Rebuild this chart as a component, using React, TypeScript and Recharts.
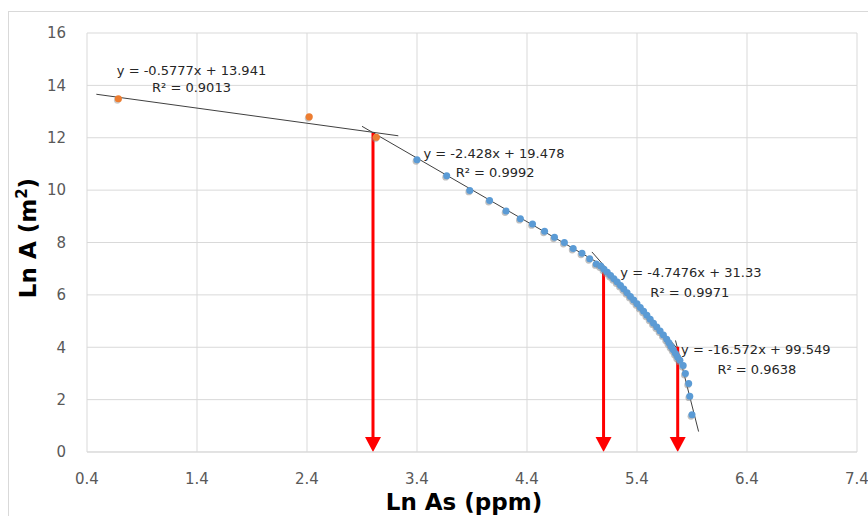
import React from 'react';
import {
  ScatterChart,
  Scatter,
  XAxis,
  YAxis,
  CartesianGrid,
  ReferenceLine,
  ReferenceDot,
} from 'recharts';

// ---- data ----
const orangeX = [0.685, 2.42, 3.03];
const orangeY = [13.49, 12.8, 12.02];

const blueX = [
  3.4, 3.67, 3.88, 4.06, 4.21, 4.34, 4.45, 4.56, 4.65, 4.74, 4.82, 4.9, 4.97, 5.03,
  5.07, 5.1, 5.13, 5.16, 5.19, 5.22, 5.25, 5.28, 5.31, 5.34, 5.37, 5.4, 5.43, 5.46,
  5.49, 5.52, 5.55, 5.58, 5.61, 5.64, 5.67, 5.69, 5.71, 5.73, 5.75, 5.77,
  5.79, 5.82, 5.84, 5.87, 5.88, 5.9,
];
const blueY = [
  11.16, 10.55, 9.99, 9.6, 9.2, 8.91, 8.71, 8.43, 8.2, 8.0, 7.77, 7.59, 7.38, 7.18,
  7.1, 6.98, 6.86, 6.74, 6.62, 6.49, 6.36, 6.22, 6.08, 5.94, 5.8, 5.66, 5.52, 5.37,
  5.22, 5.07, 4.92, 4.77, 4.62, 4.47, 4.31, 4.17, 4.03, 3.9, 3.76, 3.62,
  3.5, 3.3, 3.0, 2.62, 2.13, 1.42,
];

const trendSlope = [-0.5777, -2.428, -4.7476, -16.572];
const trendIntercept = [13.941, 19.478, 31.33, 99.549];
const trendStart = [0.485, 2.9, 4.99, 5.75];
const trendEnd = [3.23, 5.08, 5.76, 5.96];
const trendEquation = [
  'y = -0.5777x + 13.941',
  'y = -2.428x + 19.478',
  'y = -4.7476x + 31.33',
  'y = -16.572x + 99.549',
];
const trendR2 = ['R² = 0.9013', 'R² = 0.9992', 'R² = 0.9971', 'R² = 0.9638'];
const eqLabelX = [1.35, 4.1, 5.89, 6.48];
const eqLabelY = [14.56, 11.38, 6.84, 3.93];
const r2LabelX = [1.35, 4.11, 5.88, 6.49];
const r2LabelY = [13.91, 10.66, 6.08, 3.16];

const arrowX = [3.0, 5.096, 5.77];
const arrowTop = [12.18, 7.08, 4.02];

const xTicks = [0.4, 1.4, 2.4, 3.4, 4.4, 5.4, 6.4, 7.4];
const yTicks = [0, 2, 4, 6, 8, 10, 12, 14, 16];

const orangeData = orangeX.map((x, i) => ({ x, y: orangeY[i] }));
const blueData = blueX.map((x, i) => ({ x, y: blueY[i] }));

const FONT = '"DejaVu Sans", sans-serif';

const BlueDot = (p: any) => (
  <g>
    <circle cx={p.cx - 1} cy={p.cy + 1.5} r={3.4} fill="#8c8c8c" fillOpacity={0.55} />
    <circle cx={p.cx} cy={p.cy} r={3.5} fill="#5b9bd5" />
  </g>
);

const OrangeDot = (p: any) => (
  <g>
    <circle cx={p.cx - 1} cy={p.cy + 1.5} r={3.4} fill="#8c8c8c" fillOpacity={0.45} />
    <circle cx={p.cx} cy={p.cy} r={3.6} fill="#ed7d31" />
  </g>
);

const ArrowShape = (p: any) => {
  const { x1, y1, y2 } = p;
  const top = Math.min(y1, y2);
  const bot = Math.max(y1, y2);
  const h = 15;
  const w = 8;
  return (
    <g>
      <line x1={x1} y1={top} x2={x1} y2={bot - h + 1} stroke="#ff0000" strokeWidth={3} />
      <polygon points={`${x1 - w},${bot - h} ${x1 + w},${bot - h} ${x1},${bot}`} fill="#ff0000" />
    </g>
  );
};

const makeText = (txt: string) => (p: any) => (
  <text
    x={p.cx}
    y={p.cy}
    textAnchor="middle"
    dominantBaseline="central"
    fontFamily={FONT}
    fontSize={13}
    fill="#262626"
  >
    {txt}
  </text>
);

export default function App() {
  return (
    <div
      style={{
        position: 'fixed',
        left: 0,
        top: 0,
        width: 868,
        height: 516,
        overflow: 'hidden',
        background: '#fff',
      }}
    >
      <div
        style={{
          position: 'absolute',
          left: 8,
          top: 11,
          width: 900,
          height: 600,
          borderLeft: '1px solid #d9d9d9',
          borderTop: '1px solid #d9d9d9',
          boxSizing: 'border-box',
        }}
      />
      <div style={{ position: 'absolute', left: 0, top: 0 }}>
        <ScatterChart
          width={868}
          height={516}
          margin={{ top: 33, right: 11, left: 27, bottom: 34 }}
        >
          <CartesianGrid stroke="#d9d9d9" strokeWidth={1} />
          <XAxis
            type="number"
            dataKey="x"
            domain={[0.4, 7.4]}
            ticks={xTicks}
            tickFormatter={(v: number) => v.toFixed(1)}
            allowDataOverflow
            height={30}
            tickLine={false}
            tickMargin={15}
            axisLine={{ stroke: '#d9d9d9' }}
            tick={{ fill: '#595959', fontSize: 15, fontFamily: FONT }}
          />
          <YAxis
            type="number"
            dataKey="y"
            domain={[0, 16]}
            ticks={yTicks}
            allowDataOverflow
            width={60}
            tickLine={false}
            axisLine={false}
            tickMargin={15}
            tick={{ fill: '#595959', fontSize: 15, fontFamily: FONT }}
          />
          <Scatter data={orangeData} shape={OrangeDot} isAnimationActive={false} />
          <Scatter data={blueData} shape={BlueDot} isAnimationActive={false} />
          {trendSlope.map((m, i) => (
            <ReferenceLine
              key={'t' + i}
              segment={[
                { x: trendStart[i], y: m * trendStart[i] + trendIntercept[i] },
                { x: trendEnd[i], y: m * trendEnd[i] + trendIntercept[i] },
              ]}
              stroke="#404040"
              strokeWidth={1}
              ifOverflow="visible"
            />
          ))}
          {arrowX.map((x, i) => (
            <ReferenceLine
              key={'a' + i}
              segment={[
                { x, y: arrowTop[i] },
                { x, y: 0 },
              ]}
              stroke="#ff0000"
              strokeWidth={3}
              shape={ArrowShape}
              ifOverflow="visible"
            />
          ))}
          {trendEquation.map((t, i) => (
            <ReferenceDot
              key={'e' + i}
              x={eqLabelX[i]}
              y={eqLabelY[i]}
              r={0}
              shape={makeText(t)}
              ifOverflow="visible"
            />
          ))}
          {trendR2.map((t, i) => (
            <ReferenceDot
              key={'r' + i}
              x={r2LabelX[i]}
              y={r2LabelY[i]}
              r={0}
              shape={makeText(t)}
              ifOverflow="visible"
            />
          ))}
        </ScatterChart>
      </div>
      <svg
        width={868}
        height={516}
        style={{ position: 'absolute', left: 0, top: 0, pointerEvents: 'none' }}
      >
        <text
          x={464}
          y={510}
          textAnchor="middle"
          fontFamily={FONT}
          fontWeight="bold"
          fontSize={23}
          fill="#000"
        >
          Ln As (ppm)
        </text>
        <text
          transform="translate(36,238) rotate(-90)"
          textAnchor="middle"
          fontFamily={FONT}
          fontWeight="bold"
          fontSize={23}
          fill="#000"
        >
          Ln A (m<tspan fontSize={15} dy={-9}>2</tspan>
          <tspan dy={9}>)</tspan>
        </text>
      </svg>
    </div>
  );
}
